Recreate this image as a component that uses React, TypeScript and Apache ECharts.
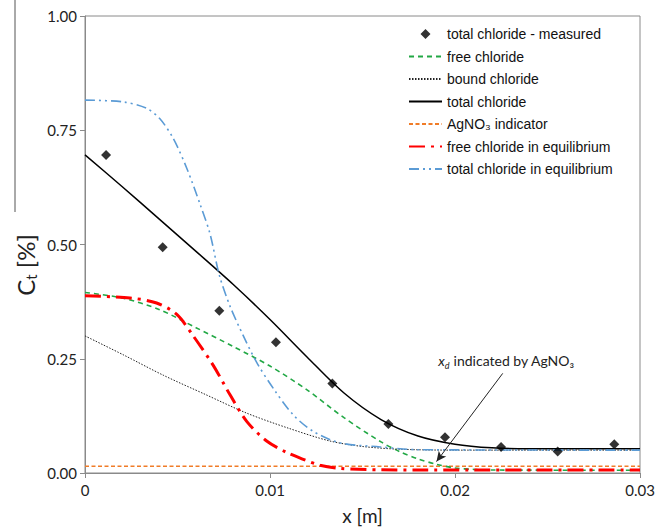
import React, { useEffect, useRef } from 'react';
import * as echarts from 'echarts';

// ---- data ----
const measuredX = [0.00114, 0.0042, 0.00726, 0.01032, 0.01337, 0.0164, 0.01946, 0.02249, 0.02555, 0.02861];
const measuredY = [0.696, 0.494, 0.355, 0.286, 0.196, 0.107, 0.078, 0.057, 0.047, 0.063];

const freeX = [0, 0.002, 0.004, 0.006, 0.008, 0.01, 0.012, 0.014, 0.016, 0.017, 0.018, 0.019, 0.02, 0.021, 0.022, 0.03];
const freeY = [0.395, 0.383, 0.358, 0.318, 0.277, 0.234, 0.182, 0.121, 0.068, 0.047, 0.031, 0.019, 0.011, 0.008, 0.0065, 0.006];

const boundX = [0, 0.0021, 0.00423, 0.0065, 0.00874, 0.011, 0.01324, 0.015, 0.01703, 0.02, 0.03];
const boundY = [0.3, 0.258, 0.214, 0.172, 0.131, 0.098, 0.07, 0.058, 0.052, 0.05, 0.05];

const totalX = [0, 0.002, 0.004, 0.006, 0.008, 0.01, 0.012, 0.014, 0.016, 0.018, 0.02, 0.022, 0.024, 0.03];
const totalY = [0.696, 0.627, 0.556, 0.485, 0.413, 0.336, 0.254, 0.175, 0.117, 0.081, 0.063, 0.055, 0.053, 0.053];

const agX = [0, 0.03];
const agY = [0.015, 0.015];

const freeEqX = [0, 0.00243, 0.00387, 0.00496, 0.00585, 0.00694, 0.00784, 0.00874, 0.00982, 0.0109, 0.0118, 0.0127, 0.0138, 0.016, 0.018, 0.03];
const freeEqY = [0.388, 0.383, 0.372, 0.347, 0.3, 0.235, 0.171, 0.113, 0.07, 0.045, 0.03, 0.017, 0.01, 0.007, 0.0066, 0.0065];

const totalEqX = [0, 0.00207, 0.00333, 0.00405, 0.00477, 0.0055, 0.00622, 0.00676, 0.00726, 0.00784, 0.00856, 0.00928, 0.01018, 0.01126, 0.01234, 0.01378, 0.01595, 0.018, 0.03];
const totalEqY = [0.816, 0.812, 0.798, 0.775, 0.732, 0.667, 0.588, 0.523, 0.433, 0.365, 0.3, 0.242, 0.185, 0.127, 0.091, 0.066, 0.057, 0.051, 0.05];

const xTicks = [0, 0.01, 0.02, 0.03];
const yTicks = [0, 0.25, 0.5, 0.75, 1.0];

const seriesNames = [
  'total chloride - measured',
  'free chloride',
  'bound chloride',
  'total chloride',
  'AgNO₃ indicator',
  'free chloride in equilibrium',
  'total chloride in equilibrium',
];

const arrowFrom = [0.02258, 0.218];
const arrowTo = [0.019, 0.025];
const annotationAt = [0.02278, 0.246];

const pairs = (xs: number[], ys: number[]) => xs.map((x, i) => [x, ys[i]]);

export default function App() {
  const ref = useRef<HTMLDivElement>(null);
  useEffect(() => {
    if (!ref.current) return;
    const chart = echarts.init(ref.current, undefined, { renderer: 'svg' });
    const labelFont = 'Lato, "Open Sans", sans-serif';
    const lineBase = (name: string, xs: number[], ys: number[], color: string, width: number, dash: any, z = 2) => ({
      name,
      type: 'line',
      data: pairs(xs, ys),
      symbol: 'none',
      showSymbol: false,
      smooth: 0.3,
      z,
      lineStyle: { color, width, type: dash },
      itemStyle: { color },
    });
    const diamondIcon = 'path://M0,4L0.01,4M12,0L16,4L12,8L8,4ZM24,4L23.99,4';
    chart.setOption({
      animation: false,
      backgroundColor: '#fff',
      grid: { left: 85, right: 27, top: 16, bottom: 51, show: true, borderColor: '#8a8a8a', borderWidth: 1, backgroundColor: 'transparent' },
      xAxis: {
        type: 'value',
        min: 0,
        max: 0.03,
        interval: 0.01,
        name: 'x [m]',
        nameLocation: 'middle',
        nameGap: 33,
        nameTextStyle: { fontFamily: labelFont, fontSize: 19, color: '#222' },
        axisLine: { show: true, lineStyle: { color: '#8a8a8a', width: 1 } },
        axisTick: { show: true, inside: false, length: 5, lineStyle: { color: '#8a8a8a' } },
        splitLine: { show: false },
        axisLabel: {
          margin: 9,
          fontFamily: labelFont,
          fontSize: 15,
          color: '#222',
          formatter: (v: number) => (xTicks.includes(v) && v === 0 ? '0' : v.toFixed(2)),
        },
      },
      yAxis: {
        type: 'value',
        min: 0,
        max: 1,
        interval: 0.25,
        axisLine: { show: true, lineStyle: { color: '#8a8a8a', width: 1 } },
        axisTick: { show: true, inside: false, length: 5, lineStyle: { color: '#8a8a8a' } },
        splitLine: { show: false },
        axisLabel: {
          margin: 8,
          fontFamily: labelFont,
          fontSize: 15,
          color: '#222',
          formatter: (v: number) => (yTicks.includes(v) ? v.toFixed(2) : ''),
        },
      },
      legend: {
        orient: 'vertical',
        left: 403,
        top: 21,
        itemWidth: 33,
        itemHeight: 10,
        itemGap: 6.5,
        textStyle: { fontFamily: '"Liberation Sans", Arial, sans-serif', fontSize: 14, color: '#111', lineHeight: 16 },
        data: seriesNames.map((n, i) =>
          i === 0
            ? { name: n, icon: diamondIcon, itemStyle: { color: '#000' } }
            : { name: n, itemStyle: { opacity: 0 } }
        ),
      },
      graphic: [
        { type: 'line', shape: { x1: 15, y1: 0, x2: 15, y2: 212 }, style: { stroke: '#555', lineWidth: 1 } },
        {
          type: 'text',
          x: 25,
          y: 265,
          rotation: Math.PI / 2,
          style: {
            text: '{a|C}{b|t}{a| [%]}',
            align: 'center',
            verticalAlign: 'middle',
            fill: '#222',
            rich: {
              a: { fontFamily: labelFont, fontSize: 24, lineHeight: 27, fill: '#222', color: '#222' },
              b: { fontFamily: labelFont, fontSize: 15, lineHeight: 16, verticalAlign: 'bottom', fill: '#222', color: '#222' },
            },
          },
        },
      ],
      series: [
        lineBase(seriesNames[1], freeX, freeY, '#22a845', 1.6, [5, 4], 3),
        lineBase(seriesNames[2], boundX, boundY, '#222', 1, [1.5, 1.5], 3),
        lineBase(seriesNames[3], totalX, totalY, '#000', 1.5, 'solid', 4),
        {
          ...lineBase(seriesNames[4], agX, agY, '#f07c28', 1.5, [4, 2.5], 2),
          smooth: false,
          markLine: {
            silent: true,
            symbol: ['none', 'arrow'],
            symbolSize: [7, 10],
            label: { show: false },
            lineStyle: { color: '#222', width: 1, type: 'solid' },
            data: [[{ coord: arrowFrom }, { coord: arrowTo }]],
          },
          markPoint: {
            silent: true,
            data: [
              {
                coord: annotationAt,
                symbol: 'rect',
                symbolSize: 1,
                itemStyle: { color: 'rgba(0,0,0,0)' },
                label: {
                  show: true,
                  position: 'inside',
                  color: '#222',
                  formatter: '{i|x}{s|d}{n| indicated by AgNO₃}',
                  rich: {
                    i: { fontFamily: labelFont, fontStyle: 'italic', fontSize: 14, lineHeight: 18, color: '#222' },
                    s: { fontFamily: labelFont, fontStyle: 'italic', fontSize: 9, lineHeight: 11, verticalAlign: 'bottom', color: '#222' },
                    n: { fontFamily: labelFont, fontSize: 14, lineHeight: 18, color: '#222' },
                  },
                },
              },
            ],
          },
        },
        lineBase(seriesNames[5], freeEqX, freeEqY, '#ff0000', 3, [16, 6, 3, 6], 5),
        lineBase(seriesNames[6], totalEqX, totalEqY, '#5b9bd5', 1.6, [10, 4, 2, 4, 2, 4], 4),
        {
          name: seriesNames[0],
          type: 'scatter',
          data: pairs(measuredX, measuredY),
          symbol: 'diamond',
          symbolSize: 10,
          z: 10,
          itemStyle: { color: '#000' },
        },
      ],
    });
    return () => chart.dispose();
  }, []);
  return <div ref={ref} style={{ position: 'fixed', left: 0, top: 0, width: 667, height: 530 }} />;
}
